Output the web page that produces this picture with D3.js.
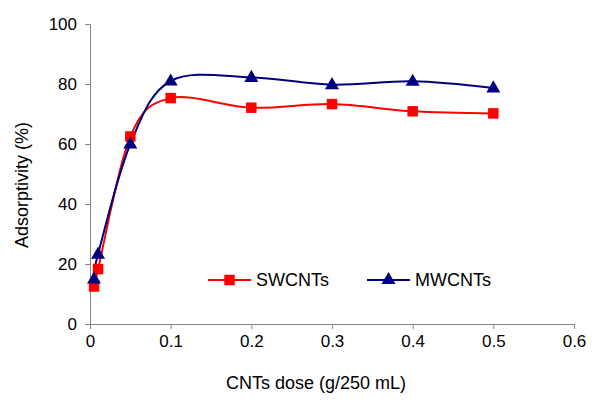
<!DOCTYPE html>
<html><head><meta charset="utf-8">
<script src="https://cdn.jsdelivr.net/npm/d3@7"></script>
<style>body{margin:0;background:#fff}svg{display:block}text{font-family:"Liberation Sans",Arial,sans-serif}</style>
</head><body><svg id="c" width="600" height="408"></svg>
<script>
const doses = [0.005, 0.01, 0.05, 0.1, 0.2, 0.3, 0.4, 0.5];
const swcnts = [12.5, 18.3, 62.5, 75.3, 72.1, 73.3, 70.9, 70.2];
const mwcnts = [15.0, 23.3, 60.0, 81.0, 82.2, 79.8, 80.9, 78.7];
const xTicks = [0, 0.1, 0.2, 0.3, 0.4, 0.5, 0.6];
const yTicks = [0, 20, 40, 60, 80, 100];
const seriesNames = ["SWCNTs", "MWCNTs"];

const svg = d3.select("#c");
const L = 90, R = 574, T = 24, B = 324;
const x = d3.scaleLinear().domain([0, 0.6]).range([L, R]);
const y = d3.scaleLinear().domain([0, 100]).range([B, T]);
const axisColor = "#868686";

const xa = svg.append("g").attr("transform", `translate(0,${B})`)
  .call(d3.axisBottom(x).tickValues(xTicks).tickFormat(d => d === 0 ? "0" : String(d)).tickSize(5).tickPadding(6));
const ya = svg.append("g").attr("transform", `translate(${L},0)`)
  .call(d3.axisLeft(y).tickValues(yTicks).tickSize(5).tickPadding(8));
[xa, ya].forEach(a => {
  a.select(".domain").attr("stroke", axisColor).attr("stroke-width", 1);
  a.selectAll(".tick line").attr("stroke", axisColor);
  a.selectAll("text").attr("fill", "#000").style("font-size", "17px").style("font-family", '"Liberation Sans",Arial,sans-serif');
});

const line = d3.line().x((d, i) => x(doses[i])).y(d => y(d)).curve(d3.curveCardinal.tension(0));
const data = [
  {name: seriesNames[0], vals: swcnts, color: "#FF0000", shape: "square"},
  {name: seriesNames[1], vals: mwcnts, color: "#000080", shape: "triangle"}
];
const sym = s => s === "square" ? d3.symbol(d3.symbolSquare, 110)() : d3.symbol(d3.symbolTriangle, 85)();

data.forEach(s => {
  svg.append("path").datum(s.vals).attr("d", line).attr("fill", "none").attr("stroke", s.color).attr("stroke-width", 2);
});
data.forEach(s => {
  svg.append("g").selectAll("path").data(s.vals).join("path")
    .attr("d", sym(s.shape))
    .attr("transform", (d, i) => `translate(${x(doses[i])},${y(d) + (s.shape === "triangle" ? 0.5 : 0)})`)
    .attr("fill", s.color);
});

// legend
const legX = [208, 367];
data.forEach((s, i) => {
  const g = svg.append("g").attr("transform", `translate(${legX[i]},280)`);
  g.append("line").attr("x1", 0).attr("x2", 43).attr("stroke", s.color).attr("stroke-width", 2);
  g.append("path").attr("d", sym(s.shape)).attr("transform", "translate(21.5,0)").attr("fill", s.color);
  g.append("text").attr("x", 48).attr("y", 6).style("font-size", "18px").text(s.name);
});

svg.append("text").attr("x", 316).attr("y", 389).attr("text-anchor", "middle").style("font-size", "18px").text("CNTs dose (g/250 mL)");
svg.append("text").attr("transform", "translate(28,185) rotate(-90)").attr("text-anchor", "middle").style("font-size", "18px").text("Adsorptivity (%)");
</script></body></html>
